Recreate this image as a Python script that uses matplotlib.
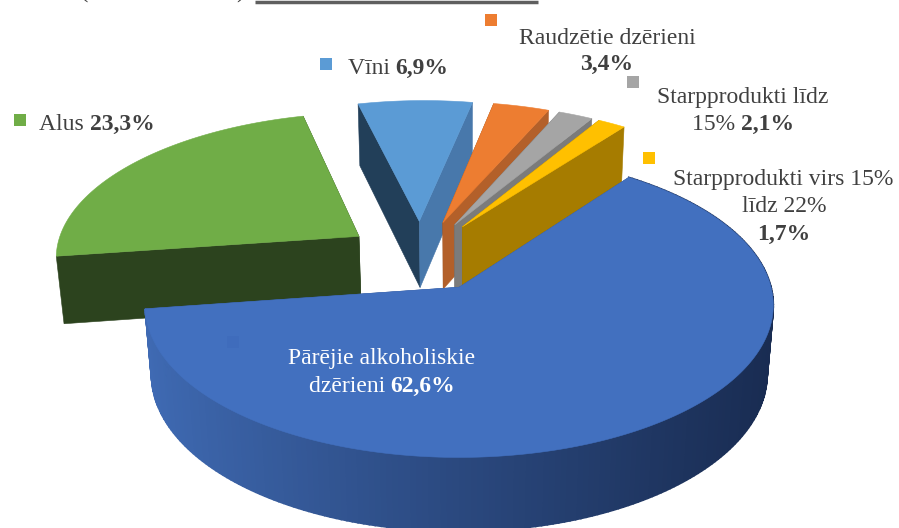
import numpy as np
import matplotlib
matplotlib.use("Agg")
import matplotlib.pyplot as plt
from matplotlib.patches import Polygon, Rectangle

# ---- data ----
names = ["Pārējie alkoholiskie dzērieni", "Alus", "Vīni", "Raudzētie dzērieni",
         "Starpprodukti līdz 15%", "Starpprodukti virs 15% līdz 22%"]
shares = [62.6, 23.3, 6.9, 3.4, 2.1, 1.7]
share_labels = ["62,6%", "23,3%", "6,9%", "3,4%", "2,1%", "1,7%"]

# ---- style ----
top_colors = ["#4270BF", "#70AD47", "#5B9BD5", "#ED7D31", "#A5A5A5", "#FFC000"]
start_cut = ["#2F4F87", "#2C431E", "#223F59", "#8E4B1D", "#636363", "#997300"]
end_cut = ["#2F4F87", "#2C431E", "#4878AB", "#B3602A", "#7B7B7B", "#A67C00"]
draw_order = [2, 3, 4, 5, 1, 0]
START = 36.5
EXPLODE = [0.25, 0.25, 0.25, 0.25, 0.25, 0.25]
CENTER = (-0.14, 0.22)
OX, OY, A, B, K = 463, 288, 312, 150, 0.12
D, Q = 70, 0.02
TXT = "#404040"

plt.rcParams["font.family"] = ["Liberation Serif", "DejaVu Serif"]
fig = plt.figure(figsize=(8.99, 5.28), dpi=100)
ax = fig.add_axes([0, 0, 1, 1])
ax.set_xlim(0, 899)
ax.set_ylim(528, 0)
ax.axis("off")


def project(X, Y, Z=0.0):
    s = 1.0 / (1 + K * Y + Q * Z)
    return OX + A * X * s, OY - B * Y * s + D * Z * s


def poly(pts, color, z, lw=0.4):
    ax.add_patch(Polygon(pts, closed=True, facecolor=color, edgecolor=color,
                         linewidth=lw, zorder=z))


def mix(c1, c2, t):
    a, b = np.array(matplotlib.colors.to_rgb(c1)), np.array(matplotlib.colors.to_rgb(c2))
    return tuple(a + (b - a) * t)


theta = START
z = 1.0
spans = []
for v in shares:
    spans.append((theta, theta + v * 3.6))
    theta += v * 3.6

for i in draw_order:
    t0, t1 = spans[i]
    mid = np.radians((t0 + t1) / 2)
    ax0 = CENTER[0] + EXPLODE[i] * np.sin(mid)
    ay0 = CENTER[1] + EXPLODE[i] * np.cos(mid)
    angs = np.radians(np.linspace(t0, t1, max(int(t1 - t0) + 2, 6)))
    xs = ax0 + np.sin(angs)
    ys = ay0 + np.cos(angs)
    apex_t, apex_b = project(ax0, ay0), project(ax0, ay0, 1)
    # cut faces
    poly([apex_t, project(xs[0], ys[0]), project(xs[0], ys[0], 1), apex_b], start_cut[i], z)
    z += 0.01
    poly([apex_t, project(xs[-1], ys[-1]), project(xs[-1], ys[-1], 1), apex_b], end_cut[i], z)
    z += 0.01
    # rim: only the big front slice shows its curved side
    if i == 0:
        for j in range(len(xs) - 1):
            px = project(xs[j], ys[j])[0]
            t = np.clip((px - 146) / (773 - 146), 0, 1)
            col = mix("#3F6AB3", "#192C52", t ** 0.9)
            poly([project(xs[j], ys[j]), project(xs[j + 1], ys[j + 1]),
                  project(xs[j + 1], ys[j + 1], 1), project(xs[j], ys[j], 1)], col, z, lw=1.2)
            z += 0.001
    # top
    outline = [apex_t] + [project(a, b) for a, b in zip(xs, ys)]
    poly(outline, top_colors[i], z + 0.5)
    z += 0.6


def runs(cx, y, parts, color=TXT, size=17):
    """Centre a line built of (text, bold) pieces on cx."""
    r = fig.canvas.get_renderer()
    items = [ax.text(0, y, s, fontsize=size, fontweight="bold" if b else "normal",
                     color=color, va="center_baseline", ha="left", zorder=20) for s, b in parts]
    ws = [t.get_window_extent(r).width for t in items]
    x = cx - sum(ws) / 2
    for t, w in zip(items, ws):
        t.set_x(x)
        x += w


runs(382, 356, [("Pārējie alkoholiskie", False)], "white")
runs(382, 384, [("dzērieni ", False), (share_labels[0], True)], "white")
runs(97, 122, [(names[1] + " ", False), (share_labels[1], True)])
runs(398, 66, [(names[2] + " ", False), (share_labels[2], True)])
runs(607, 36, [(names[3], False)])
runs(607, 62, [(share_labels[3], True)])
runs(743, 95, [("Starpprodukti līdz", False)])
runs(743, 122, [("15% ", False), (share_labels[4], True)])
runs(783, 177, [("Starpprodukti virs 15%", False)])
runs(784, 204, [("līdz 22%", False)])
runs(784, 232, [(share_labels[5], True)])

key_pos = [(227, 336), (14, 114), (320, 58), (485, 14), (627, 76), (643, 152)]
key_cols = ["#3F6CBC", "#70AD47", "#5B9BD5", "#ED7D31", "#A5A5A5", "#FFC000"]
for (kx, ky), c in zip(key_pos, key_cols):
    ax.add_patch(Rectangle((kx, ky), 12, 12, facecolor=c, edgecolor="none", zorder=15))

# remains of the cropped title above the chart
ax.plot([255, 538], [1.5, 1.5], color="#5F5F5F", lw=2.5, zorder=15, solid_capstyle="butt")
ax.text(80, -2, "(", fontsize=18, color=TXT, va="baseline", zorder=15)
ax.text(236, -2, ")", fontsize=18, color=TXT, va="baseline", zorder=15)

fig.savefig("out.png", dpi=100)
